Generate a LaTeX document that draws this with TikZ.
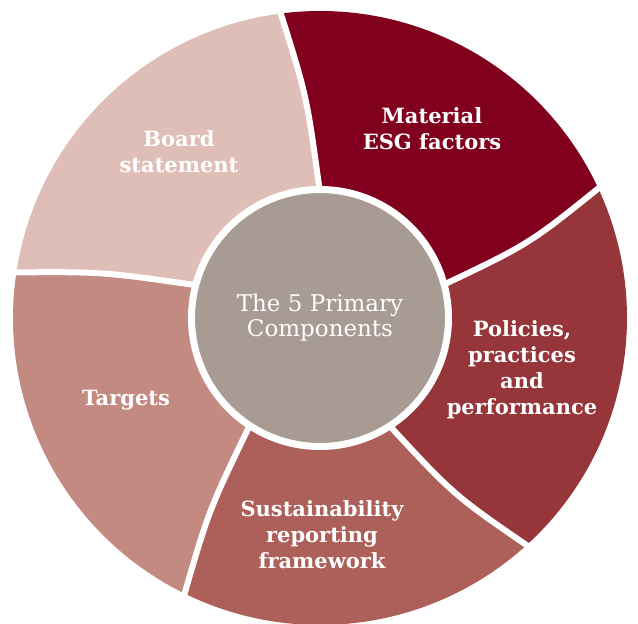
\documentclass[tikz,border=0pt]{standalone}
\usepackage{fontspec}
\setmainfont{DejaVu Serif}

\definecolor{boardcol}{HTML}{DFBEB7}
\definecolor{materialcol}{HTML}{80001E}
\definecolor{policiescol}{HTML}{96363A}
\definecolor{reportingcol}{HTML}{AD6059}
\definecolor{targetscol}{HTML}{C38A82}
\definecolor{hubcol}{HTML}{A79B93}

\tikzset{
  gap/.style={draw=white, line width=6pt},
  seglabel/.style={text=white, align=center, font=\bfseries\fontsize{21}{26}\selectfont},
  hub/.style={circle, fill=hubcol, draw=white, line width=7pt, minimum size=257pt,
    text=white, align=center, font=\fontsize{23}{25}\selectfont}
}

\begin{document}
\begin{tikzpicture}[x=1pt,y=1pt]
        \useasboundingbox (-320,-306) rectangle (318,318);

        % Ring: inner angle / outer angle of each edge, then colour
        \foreach \ia/\oa/\ib/\ob/\col in {90/97.5/14.8/25.2/materialcol,
                                          14.8/25.2/-57.4/-47.5/policiescol,
                                          -57.4/-47.5/-123.4/-116/reportingcol,
                                          -123.4/-116/-195/-188.4/targetscol,
                                          165/171.6/90/97.5/boardcol}
        {
            \fill[\col] (0,0) -- (\ia:132)
                .. controls ({\ia+0.45*(\oa-\ia)}:222) .. (\oa:307)
                arc[start angle=\oa, end angle=\ob, radius=307]
                .. controls ({\ib+0.45*(\ob-\ib)}:222) .. (\ib:132) -- cycle;
        }

        % White gaps between the pieces
        \foreach \ia/\oa in {90/97.5,14.8/25.2,-57.4/-47.5,-123.4/-116,165/171.6}
        {
            \draw[gap] (\ia:125) .. controls ({\ia+0.45*(\oa-\ia)}:222) .. (\oa:312);
        }

        \node[hub] (Hub) at (0,0) {The 5 Primary\\Components};

        \node[seglabel] (Material) at (112,189) {Material\\ESG factors};
        \node[seglabel] (Policies) at (202,-52) {Policies,\\practices\\and\\performance};
        \node[seglabel] (Reporting) at (2,-217) {Sustainability\\reporting\\framework};
        \node[seglabel] (Targets) at (-194,-82) {Targets};
        \node[seglabel] (Board) at (-141,166) {Board\\statement};
\end{tikzpicture}
\end{document}
